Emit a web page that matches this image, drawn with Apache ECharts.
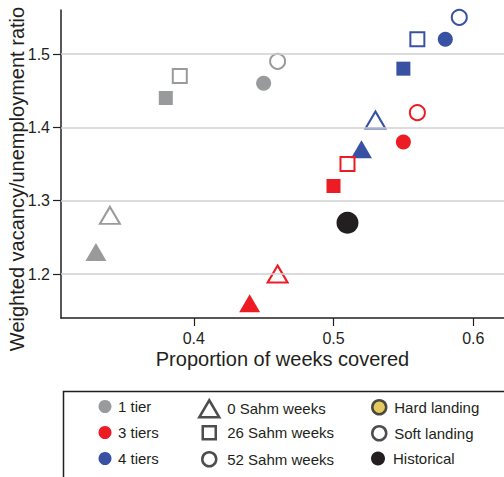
<!DOCTYPE html>
<html><head><meta charset="utf-8">
<script src="https://cdn.jsdelivr.net/npm/echarts@6/dist/echarts.min.js"></script>
<style>html,body{margin:0;padding:0;background:#fff}#c{width:504px;height:477px}</style>
</head><body><div id="c"></div>
<script>
// ---- data ----
const xTicks = [0.4, 0.5, 0.6];
const yTicks = [1.2, 1.3, 1.4, 1.5];
const tierNames = ['1 tier', '3 tiers', '4 tiers'];
const sahmNames = ['0 Sahm weeks', '26 Sahm weeks', '52 Sahm weeks'];
const landingNames = ['Hard landing', 'Soft landing', 'Historical'];
// each list ordered by Sahm weeks (0, 26, 52): [proportion of weeks covered, weighted V/U ratio]
const oneTierHard    = [[0.33, 1.23], [0.38, 1.44], [0.45, 1.46]];
const oneTierSoft    = [[0.34, 1.28], [0.39, 1.47], [0.46, 1.49]];
const threeTiersHard = [[0.44, 1.16], [0.50, 1.32], [0.55, 1.38]];
const threeTiersSoft = [[0.46, 1.20], [0.51, 1.35], [0.56, 1.42]];
const fourTiersHard  = [[0.52, 1.37], [0.55, 1.48], [0.58, 1.52]];
const fourTiersSoft  = [[0.53, 1.41], [0.56, 1.52], [0.59, 1.55]];
const historical     = [[0.51, 1.27]];

// ---- styles ----
const FONT = '"Liberation Sans", Arial, Helvetica, sans-serif';
const INK = '#231f20';
const tierColors = ['#999a9c', '#ed1c24', '#3851a3'];
const hardColor = '#dcbb3b';
const shapeSymbols = ['triangle', 'rect', 'circle'];
const filledSizes = [[21, 18], [14, 14], [15, 15]];
const openSizes = [[20, 17], [14, 14], [15, 15]];

function pointSeries(name, data, color, filled) {
  return {
    type: 'scatter', name: name, data: data,
    symbol: (v, p) => shapeSymbols[p.dataIndex],
    symbolSize: (v, p) => (filled ? filledSizes : openSizes)[p.dataIndex],
    itemStyle: filled ? { color: color, opacity: 1 }
                      : { color: 'rgba(255,255,255,0)', borderColor: color, borderWidth: 2, opacity: 1 },
    emphasis: { disabled: true }, z: filled ? 3 : 4, animation: false
  };
}
function dummy(name) {
  return { type: 'scatter', name: name, data: [], silent: true, animation: false };
}

const tierData = [[oneTierHard, oneTierSoft], [threeTiersHard, threeTiersSoft], [fourTiersHard, fourTiersSoft]];
const series = [];
tierNames.forEach((n, i) => {
  series.push(pointSeries(n, tierData[i][0], tierColors[i], true));
  series.push(pointSeries(n, tierData[i][1], tierColors[i], false));
});
series.push({
  type: 'scatter', name: landingNames[2], data: historical, symbol: 'circle', symbolSize: 22,
  itemStyle: { color: INK, opacity: 1 }, emphasis: { disabled: true }, z: 3, animation: false
});
sahmNames.forEach(n => series.push(dummy(n)));
series.push(dummy(landingNames[0]));
series.push(dummy(landingNames[1]));
series.push({
  type: 'scatter', name: 'gridlines', data: [], silent: true, z: 1, animation: false,
  markLine: {
    silent: true, symbol: 'none', animation: false, label: { show: false },
    lineStyle: { color: '#d0d0d0', width: 1.5, type: 'solid' },
    emphasis: { disabled: true },
    data: yTicks.map(v => ({ yAxis: v }))
  }
});

// ---- legend ----
const rowY = [408, 434, 460];
const colX = [105, 208, 378];
const legendItems = [];
tierNames.forEach((n, i) => legendItems.push({ name: n, col: 0, row: i, icon: 'circle', w: 13, h: 13,
  style: { color: tierColors[i], borderWidth: 0 } }));
sahmNames.forEach((n, i) => legendItems.push({ name: n, col: 1, row: i, icon: shapeSymbols[i],
  w: [20, 13, 14][i], h: [17, 13, 14][i],
  style: { color: '#ffffff', borderColor: INK, borderWidth: 2.5 } }));
landingNames.forEach((n, i) => legendItems.push({ name: n, col: 2, row: i, icon: 'circle', w: 14, h: 14,
  style: [{ color: hardColor, borderColor: INK, borderWidth: 2.5 },
          { color: '#ffffff', borderColor: INK, borderWidth: 2.5 },
          { color: INK, borderWidth: 0 }][i] }));
const textStart = [118, 226, 393];
const legends = legendItems.map(it => ({
  show: true, selectedMode: false, orient: 'vertical', padding: 0, itemGap: 0,
  left: colX[it.col] - it.w / 2,
  top: rowY[it.row] - 9,
  itemWidth: it.w, itemHeight: it.h,
  data: [{ name: it.name, icon: it.icon, itemStyle: it.style }],
  textStyle: { fontFamily: FONT, fontSize: 15, color: INK,
    padding: [0, 0, 0, Math.max(0, textStart[it.col] - (colX[it.col] + it.w / 2 + 5))] }
}));

const chart = echarts.init(document.getElementById('c'), null, { renderer: 'svg' });
chart.setOption({
  animation: false,
  backgroundColor: '#ffffff',
  grid: { left: 61, top: 10, right: 0, bottom: 159, containLabel: false, outerBoundsMode: 'none' },
  xAxis: {
    type: 'value', min: 0.305, max: 0.622,
    name: 'Proportion of weeks covered', nameLocation: 'middle', nameGap: 31, nameMoveOverlap: false,
    nameTextStyle: { fontFamily: FONT, fontSize: 20, color: INK },
    axisLine: { show: true, onZero: false, lineStyle: { color: INK, width: 1.5 } },
    axisTick: { show: true, customValues: xTicks, length: 8, lineStyle: { color: INK, width: 1.2 } },
    axisLabel: { customValues: xTicks, margin: 12, fontFamily: FONT, fontSize: 16, color: INK,
      formatter: v => v.toFixed(1) },
    splitLine: { show: false }
  },
  yAxis: {
    type: 'value', min: 1.14, max: 1.56,
    name: 'Weighted vacancy/unemployment ratio', nameLocation: 'middle', nameGap: 34, nameMoveOverlap: false,
    nameTextStyle: { fontFamily: FONT, fontSize: 20, color: INK, padding: [0, 30, 0, 0] },
    axisLine: { show: true, onZero: false, lineStyle: { color: INK, width: 1.5 } },
    axisTick: { show: true, customValues: yTicks, length: 8, lineStyle: { color: INK, width: 1.2 } },
    axisLabel: { customValues: yTicks, margin: 11, fontFamily: FONT, fontSize: 16, color: INK,
      formatter: v => v.toFixed(1) },
    splitLine: { show: false }
  },
  legend: legends,
  graphic: [{
    type: 'rect', left: 61, top: 389, silent: true, z: 0,
    shape: { x: 0, y: 0, width: 460, height: 100 },
    style: { fill: 'none', stroke: INK, lineWidth: 1.5 }
  }],
  series: series
});
</script></body></html>
